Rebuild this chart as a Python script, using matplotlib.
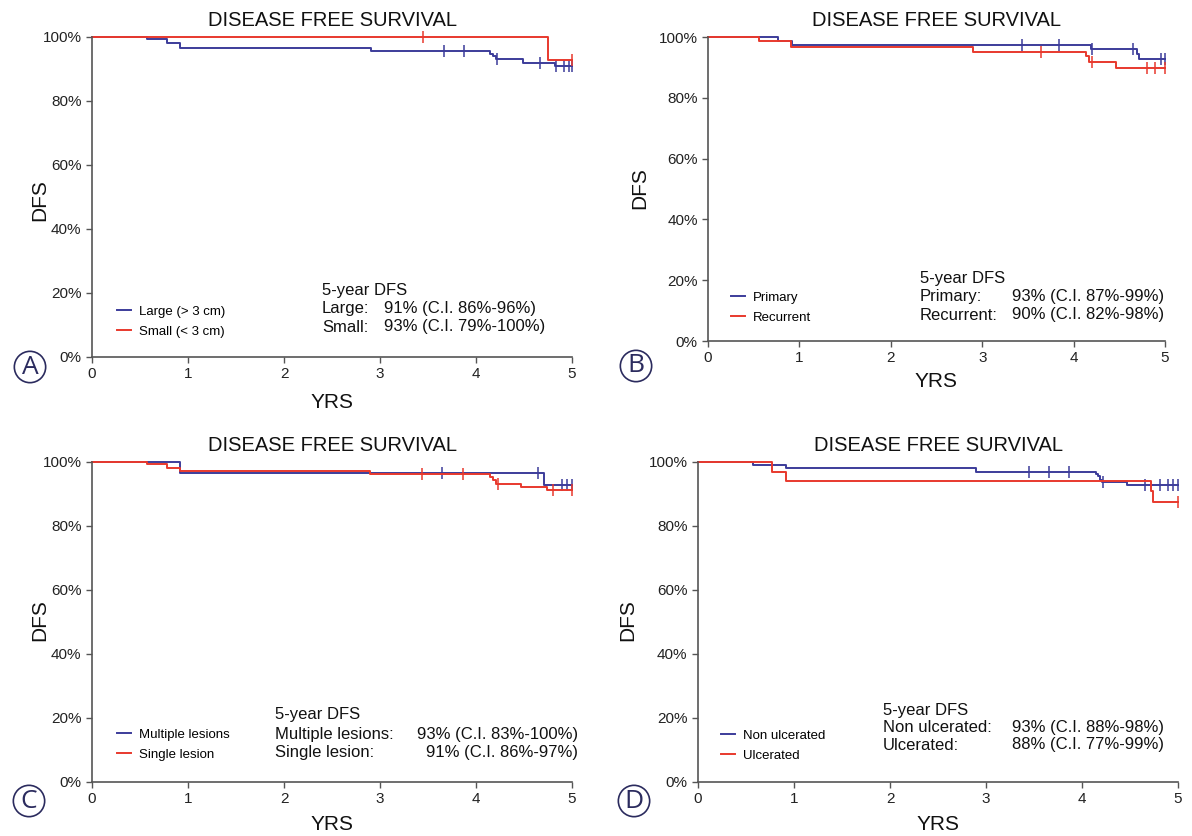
import numpy as np
import matplotlib
matplotlib.use('Agg')
import matplotlib.pyplot as plt
from matplotlib.ticker import FuncFormatter

plt.rcParams['font.family'] = ['Liberation Sans', 'DejaVu Sans']

BLUE = '#3c3c9a'
RED = '#e8392d'

# Panel A: tumour size
a_large_t = [0, 0.57, 0.78, 0.92, 2.91, 4.15, 4.18, 4.21, 4.49, 4.82, 5.0]
a_large_s = [100, 99.3, 98.2, 96.5, 95.6, 94.8, 93.9, 93.0, 92.0, 90.9, 90.9]
a_large_c = [3.67, 3.87, 4.22, 4.67, 4.83, 4.92, 4.97, 5.0]
a_small_t = [0, 4.75, 5.0]
a_small_s = [100, 92.8, 92.8]
a_small_c = [3.45, 5.0]

# Panel B: primary vs recurrent
b_prim_t = [0, 0.76, 0.92, 4.19, 4.69, 4.72, 5.0]
b_prim_s = [100, 98.8, 97.5, 96.0, 94.5, 92.9, 92.9]
b_prim_c = [3.43, 3.84, 4.2, 4.65, 4.96, 5.0]
b_rec_t = [0, 0.56, 0.91, 2.90, 4.13, 4.17, 4.46, 5.0]
b_rec_s = [100, 98.6, 96.8, 95.1, 93.8, 91.8, 89.9, 89.9]
b_rec_c = [3.64, 4.2, 4.80, 4.89, 5.0]

# Panel C: multiple vs single lesion
c_mult_t = [0, 0.92, 4.71, 5.0]
c_mult_s = [100, 96.6, 92.8, 92.8]
c_mult_c = [3.65, 4.65, 4.90, 4.95, 5.0]
c_single_t = [0, 0.57, 0.78, 0.92, 2.90, 4.15, 4.18, 4.21, 4.47, 4.74, 5.0]
c_single_s = [100, 99.3, 98.0, 97.2, 96.2, 95.4, 94.4, 93.2, 92.2, 91.3, 91.3]
c_single_c = [3.44, 3.86, 4.23, 4.80, 5.0]

# Panel D: ulceration
d_non_t = [0, 0.57, 0.92, 2.90, 4.15, 4.17, 4.19, 4.21, 4.47, 5.0]
d_non_s = [100, 99.1, 98.0, 97.0, 96.2, 95.5, 94.5, 93.6, 92.8, 92.8]
d_non_c = [3.45, 3.66, 3.86, 4.22, 4.66, 4.81, 4.90, 4.95, 5.0]
d_ulc_t = [0, 0.77, 0.92, 4.72, 4.74, 5.0]
d_ulc_s = [100, 97.0, 94.1, 90.9, 87.6, 87.6]
d_ulc_c = [5.0]

panels = [
    dict(rect=[0.0772, 0.573, 0.4027, 0.3828], letter='A',
         groups=[('Large (> 3 cm)', a_large_t, a_large_s, a_large_c, BLUE),
                 ('Small (< 3 cm)', a_small_t, a_small_s, a_small_c, RED)],
         stats=[('Large:', '91% (C.I. 86%-96%)'), ('Small:', '93% (C.I. 79%-100%)')]),
    dict(rect=[0.594, 0.5921, 0.3834, 0.3636], letter='B',
         groups=[('Primary', b_prim_t, b_prim_s, b_prim_c, BLUE),
                 ('Recurrent', b_rec_t, b_rec_s, b_rec_c, RED)],
         stats=[('Primary:', '93% (C.I. 87%-99%)'), ('Recurrent:', '90% (C.I. 82%-98%)')]),
    dict(rect=[0.0772, 0.0646, 0.4027, 0.3828], letter='C',
         groups=[('Multiple lesions', c_mult_t, c_mult_s, c_mult_c, BLUE),
                 ('Single lesion', c_single_t, c_single_s, c_single_c, RED)],
         stats=[('Multiple lesions:', '93% (C.I. 83%-100%)'), ('Single lesion:', '91% (C.I. 86%-97%)')]),
    dict(rect=[0.5856, 0.0646, 0.4027, 0.3828], letter='D',
         groups=[('Non ulcerated', d_non_t, d_non_s, d_non_c, BLUE),
                 ('Ulcerated', d_ulc_t, d_ulc_s, d_ulc_c, RED)],
         stats=[('Non ulcerated:', '93% (C.I. 88%-98%)'), ('Ulcerated:', '88% (C.I. 77%-99%)')]),
]

# pixel positions: (x of label, x of values, align of values, y of header, row step)
text_pos = [(322, 384, 'left', 290, 18.5), (920, 1164, 'right', 278, 18.5),
            (275, 578, 'right', 715, 19), (883, 1164, 'right', 710, 17.5)]
legend_pos = [(105, 294), (719, 280), (105, 717), (709, 718)]
letter_pos = [(30, 367), (636, 366), (29, 801), (634, 801)]
dfs_pos = [(40, 200), (640, 188), (40, 620), (628, 620)]
yrs_pos = [(332, 402), (936, 381), (332, 825), (938, 825)]

W, H = 1192, 836
fig = plt.figure(figsize=(W / 100, H / 100), dpi=100)


def fx(px):
    return px / W


def fy(py):
    return 1 - py / H


for p, tp, lp, lt, dp, yp in zip(panels, text_pos, legend_pos, letter_pos, dfs_pos, yrs_pos):
    ax = fig.add_axes(p['rect'])
    for name, t, s, c, col in p['groups']:
        t = np.array(t)
        s = np.array(s) / 100
        ax.step(t, s, where='post', color=col, lw=1.4, label=name, clip_on=False)
        idx = np.searchsorted(t, c, side='right') - 1
        ax.plot(c, s[idx], ls='none', marker='|', ms=9, mew=1.1, color=col, clip_on=False)
    ax.set_xlim(0, 5)
    ax.set_ylim(0, 1)
    ax.set_xticks(range(6))
    ax.set_yticks(np.arange(0, 1.01, 0.2))
    ax.yaxis.set_major_formatter(FuncFormatter(lambda v, _: f'{v * 100:.0f}%'))
    for side in ['top', 'right']:
        ax.spines[side].set_visible(False)
    for side in ['left', 'bottom']:
        ax.spines[side].set_color('#555555')
        ax.spines[side].set_linewidth(1.2)
    ax.tick_params(colors='#555555', labelcolor='#222222', labelsize=11, length=4, width=1)
    ax.set_title('DISEASE FREE SURVIVAL', fontsize=14.5, pad=8, color='#111111')
    fig.text(fx(yp[0]), fy(yp[1]), 'YRS', fontsize=15, ha='center', va='center', color='#111111')
    fig.text(fx(dp[0]), fy(dp[1]), 'DFS', rotation=90, fontsize=15, ha='center', va='center',
             color='#111111')

    ax.legend(loc='upper left', bbox_to_anchor=(fx(lp[0]), fy(lp[1])),
              bbox_transform=fig.transFigure, frameon=False, fontsize=9.5,
              handlelength=1.1, handletextpad=0.6, labelspacing=0.55)

    x0, x1, al, y0, step = tp
    fig.text(fx(x0), fy(y0), '5-year DFS', fontsize=12, va='center', color='#111111')
    for i, (lab, val) in enumerate(p['stats']):
        yy = y0 + step * (i + 1)
        fig.text(fx(x0), fy(yy), lab, fontsize=12, va='center', color='#111111')
        fig.text(fx(x1), fy(yy), val, fontsize=12, va='center', ha=al, color='#111111')

    fig.text(fx(lt[0]), fy(lt[1]), p['letter'], fontsize=19, ha='center', va='center',
             color='#2b2b5e', family='Open Sans',
             bbox=dict(boxstyle='circle,pad=0.12', fc='white', ec='#2b2b5e', lw=1.2))

fig.savefig('out.png', dpi=100)
